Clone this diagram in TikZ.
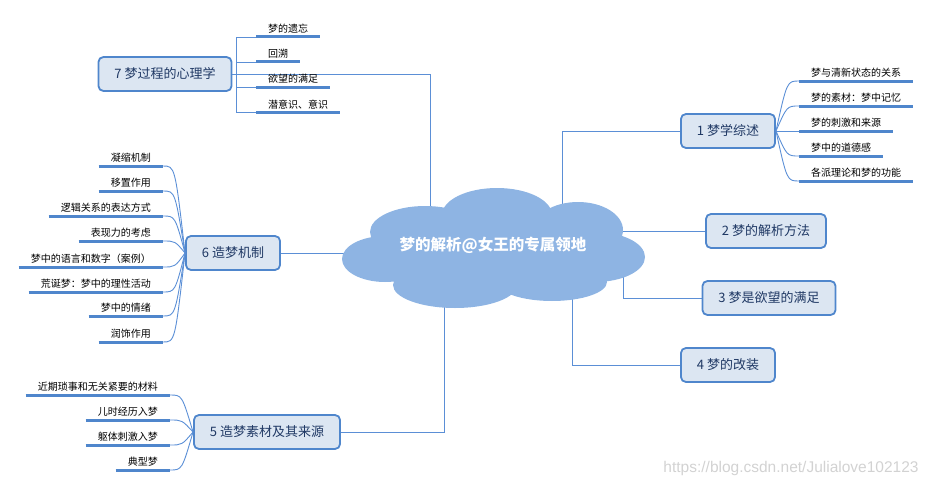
\documentclass[tikz,border=0pt]{standalone}
\usepackage{fontspec}
\newfontfamily\cjk{Noto Sans CJK SC}
\newfontfamily\wmfont{Liberation Sans}
\usetikzlibrary{backgrounds}
\definecolor{cloudblue}{HTML}{8EB4E3}
\definecolor{boxfill}{HTML}{DCE6F2}
\definecolor{boxline}{HTML}{4F86CC}
\definecolor{linkblue}{HTML}{5B8FD6}
\definecolor{navy}{HTML}{1F3864}
\begin{document}
\begin{tikzpicture}[x=1pt,y=-1pt,
  root/.style={text=white, font=\cjk\bfseries\fontsize{15.5}{18}\selectfont},
  topic/.style={draw=boxline, fill=boxfill, line width=1.8pt, rounded corners=5pt, minimum height=34pt, inner xsep=16pt, text=navy, font=\cjk\fontsize{13}{15}\selectfont},
  leafl/.style={anchor=south east, inner xsep=12pt, inner ysep=3pt, font=\cjk\fontsize{10}{12}\selectfont},
  leafr/.style={leafl, anchor=south west},
  link/.style={draw=linkblue, line width=0.9pt},
  uline/.style={draw=boxline, line width=3pt},
  wm/.style={text=gray!35, font=\wmfont\fontsize{15.5}{17}\selectfont}]

  \useasboundingbox (0,0) rectangle (931,487);

  \node[root] (root) at (493,245) {梦的解析@女王的专属领地};

  \node[topic] (t1) at (728,131) {1 梦学综述};
  \node[topic] (t2) at (766,231) {2 梦的解析方法};
  \node[topic] (t3) at (769,298) {3 梦是欲望的满足};
  \node[topic] (t4) at (728,365) {4 梦的改装};
  \node[topic] (t5) at (267,432) {5 造梦素材及其来源};
  \node[topic] (t6) at (233,253) {6 造梦机制};
  \node[topic] (t7) at (165,74) {7 梦过程的心理学};

  \node[leafr] (s11) at (799,81) {梦与清新状态的关系};
  \node[leafr] (s12) at (799,106) {梦的素材：梦中记忆};
  \node[leafr] (s13) at (799,131) {梦的刺激和来源};
  \node[leafr] (s14) at (799,156) {梦中的道德感};
  \node[leafr] (s15) at (799,181) {各派理论和梦的功能};

  \node[leafl] (s51) at (170,395) {近期琐事和无关紧要的材料};
  \node[leafl] (s52) at (170,420) {儿时经历入梦};
  \node[leafl] (s53) at (170,445) {躯体刺激入梦};
  \node[leafl] (s54) at (170,470) {典型梦};

  \node[leafl] (s61) at (163,166) {凝缩机制};
  \node[leafl] (s62) at (163,191) {移置作用};
  \node[leafl] (s63) at (163,216) {逻辑关系的表达方式};
  \node[leafl] (s64) at (163,241) {表现力的考虑};
  \node[leafl] (s65) at (163,267) {梦中的语言和数字（案例）};
  \node[leafl] (s66) at (163,292) {荒诞梦：梦中的理性活动};
  \node[leafl] (s67) at (163,316) {梦中的情绪};
  \node[leafl] (s68) at (163,342) {润饰作用};

  \node[leafr] (s71) at (256,37) {梦的遗忘};
  \node[leafr] (s72) at (256,62) {回溯};
  \node[leafr] (s73) at (256,87) {欲望的满足};
  \node[leafr] (s74) at (256,112) {潜意识、意识};

  \node[wm] (credit) at (791,468) {https://blog.csdn.net/Julialove102123};

  \foreach \n in {s11,s12,s13,s14,s15,s51,s52,s53,s54,s61,s62,s63,s64,s65,s66,s67,s68,s71,s72,s73,s74}
    \draw[uline] (\n.south west) -- (\n.south east);

  \begin{scope}[on background layer]
    \draw[link] (t1.west) -| ([xshift=69pt]root.center);
    \draw[link] (t2.west) -- (t2.west -| root.center);
    \draw[link] (t3.west) -| ([xshift=130pt]root.center);
    \draw[link] (t4.west) -| ([xshift=79pt]root.center);
    \draw[link] (t5.east) -| ([xshift=-49pt]root.center);
    \draw[link] (t6.east) -- (t6.east -| root.center);
    \draw[link] (t7.east) -| ([xshift=-63pt]root.center);
    % cloud
    \fill[cloudblue] (493,250) ellipse (120 and 40)
      (385,259) ellipse (43 and 23)
      (425,232) ellipse (55 and 26)
      (497,215) ellipse (55 and 27)
      (578,230) ellipse (45 and 28)
      (595,257) ellipse (50 and 25)
      (455,285) ellipse (62 and 23)
      (552,282) ellipse (55 and 19);
  \end{scope}

  \foreach \n in {s11,s12,s13,s14,s15}
    \draw[link] (t1.east) .. controls ([xshift=-12pt]\n.south west) .. (\n.south west);
  \foreach \n in {s51,s52,s53,s54}
    \draw[link] (t5.west) .. controls ([xshift=12pt]\n.south east) .. (\n.south east);
  \foreach \n in {s61,s62,s63,s64,s65,s66,s67,s68}
    \draw[link] (t6.west) .. controls ([xshift=12pt]\n.south east) .. (\n.south east);
  \foreach \n in {s71,s72,s73,s74}
    \draw[link] (t7.east) -- ++(4,0) |- (\n.south west);

\end{tikzpicture}
\end{document}
